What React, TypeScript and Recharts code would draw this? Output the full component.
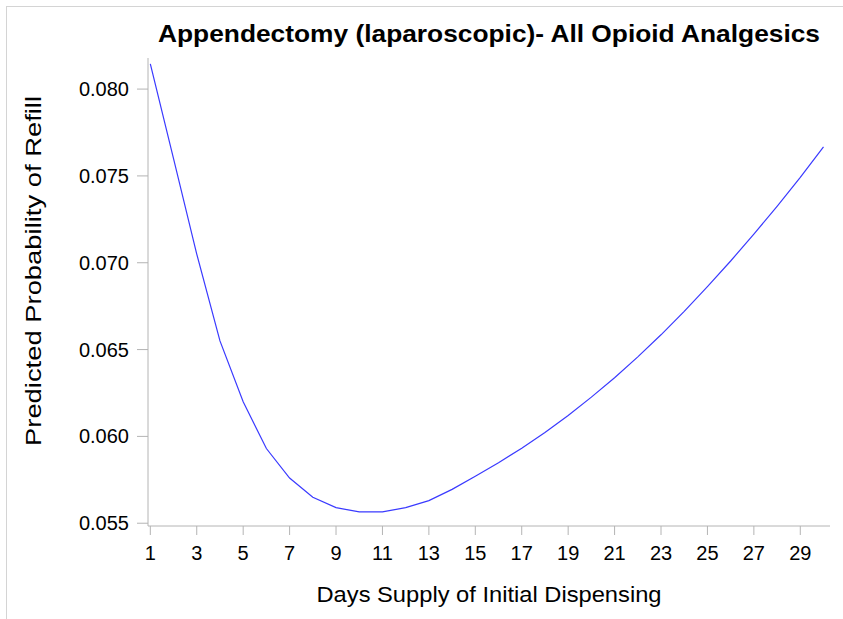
import React from 'react';
import {
  LineChart,
  Line,
  XAxis,
  YAxis,
  ReferenceArea,
  Label,
} from 'recharts';

// days supply of the initial dispensing
const DAYS = [
  1, 2, 3, 4, 5, 6, 7, 8, 9, 10, 11, 12, 13, 14, 15,
  16, 17, 18, 19, 20, 21, 22, 23, 24, 25, 26, 27, 28, 29, 30,
];

// predicted probability of refill
const REFILL_PROB = [
  0.08145, 0.0760, 0.0705, 0.0655, 0.0620, 0.0593, 0.0576, 0.0565, 0.0559, 0.05565,
  0.05565, 0.0559, 0.0563, 0.05695, 0.0577, 0.05848, 0.05932, 0.06022, 0.0612, 0.06226,
  0.06338, 0.06458, 0.06585, 0.0672, 0.06862, 0.0701, 0.07165, 0.07325, 0.07492, 0.07667,
];

const X_TICKS = [1, 3, 5, 7, 9, 11, 13, 15, 17, 19, 21, 23, 25, 27, 29];
const Y_TICKS = [0.055, 0.06, 0.065, 0.07, 0.075, 0.08];

const TITLE = 'Appendectomy (laparoscopic)- All Opioid Analgesics';
const X_LABEL = 'Days Supply of Initial Dispensing';
const Y_LABEL = 'Predicted Probability of Refill';

const data = DAYS.map((day, i) => ({ day, prob: REFILL_PROB[i] }));

const FONT = '"Liberation Sans", Arial, sans-serif';
const FRAME = '#b4b4b4';

const XLabel = (props: any) => {
  const { x, y, width } = props.viewBox;
  return (
    <text
      x={x + width / 2}
      y={y + 76}
      textAnchor="middle"
      fontFamily={FONT}
      fontSize={22}
      fill="#000"
      textLength={345}
      lengthAdjust="spacingAndGlyphs"
    >
      {X_LABEL}
    </text>
  );
};

const YLabel = () => {
  const cx = 41;
  const cy = 271;
  return (
    <text
      x={cx}
      y={cy}
      transform={`rotate(-90, ${cx}, ${cy})`}
      textAnchor="middle"
      fontFamily={FONT}
      fontSize={22}
      fill="#000"
      textLength={350}
      lengthAdjust="spacingAndGlyphs"
    >
      {Y_LABEL}
    </text>
  );
};

export default function App() {
  return (
    <div
      style={{
        position: 'absolute',
        left: 0,
        top: 0,
        width: 843,
        height: 619,
        overflow: 'hidden',
        background: '#fff',
        fontFamily: FONT,
      }}
    >
      <div
        style={{
          position: 'absolute',
          left: 6,
          top: 6,
          width: 900,
          height: 700,
          border: '1px solid #d4d4d4',
        }}
      />
      <svg
        width={843}
        height={60}
        style={{ position: 'absolute', left: 0, top: 0 }}
      >
        <text
          x={489}
          y={42}
          textAnchor="middle"
          fontFamily={FONT}
          fontWeight="bold"
          fontSize={24}
          fill="#000"
          textLength={662}
          lengthAdjust="spacingAndGlyphs"
        >
          {TITLE}
        </text>
      </svg>
      <div style={{ position: 'absolute', left: 0, top: 0 }}>
        <LineChart
          width={843}
          height={619}
          data={data}
          margin={{ top: 58, right: 13, bottom: 0, left: 0 }}
        >
          <XAxis
            dataKey="day"
            type="number"
            domain={[0.9, 30.28]}
            allowDataOverflow
            ticks={X_TICKS}
            interval={0}
            height={93}
            tickSize={9}
            tickMargin={11}
            stroke={FRAME}
            tick={{ fill: '#000', fontSize: 20, fontFamily: FONT }}
          >
            <Label content={XLabel} />
          </XAxis>
          <YAxis
            type="number"
            domain={[0.05484, 0.08179]}
            allowDataOverflow
            ticks={Y_TICKS}
            interval={0}
            width={148}
            tickSize={11}
            tickMargin={8}
            stroke={FRAME}
            tickFormatter={(v: number) => v.toFixed(3)}
            tick={{ fill: '#000', fontSize: 20, fontFamily: FONT }}
          >
            <Label content={YLabel} />
          </YAxis>
          <ReferenceArea fill="none" stroke={FRAME} strokeWidth={1} ifOverflow="visible" />
          <Line
            type="linear"
            dataKey="prob"
            stroke="#3a3aff"
            strokeWidth={1.2}
            dot={false}
            activeDot={false}
            isAnimationActive={false}
          />
        </LineChart>
      </div>
    </div>
  );
}
